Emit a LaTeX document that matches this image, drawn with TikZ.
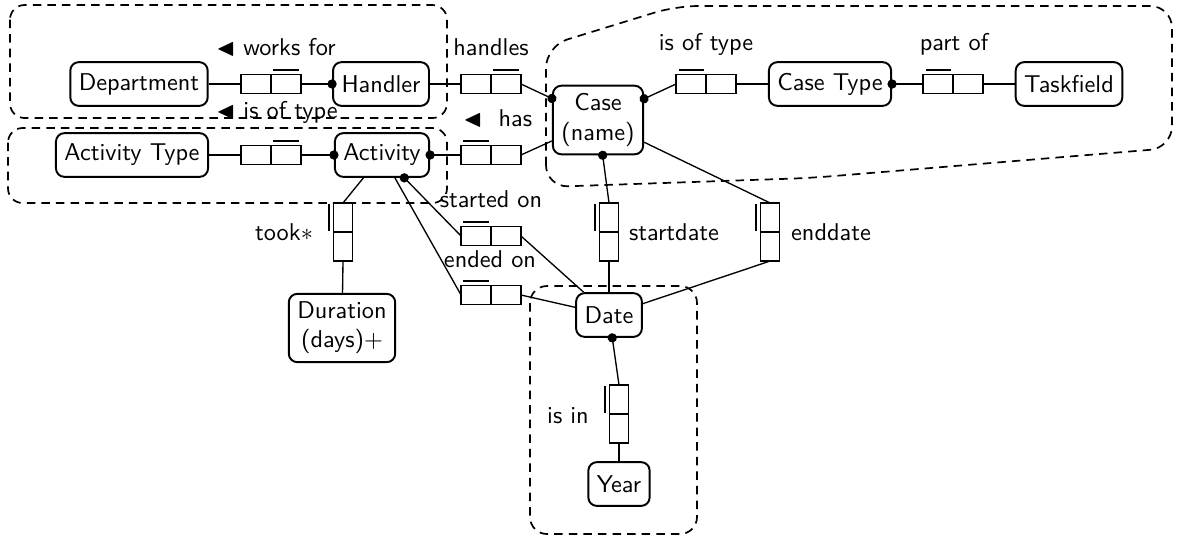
\documentclass[tikz,border=0pt]{standalone}
\usepackage{amssymb}
\usetikzlibrary{arrows.meta}
\begin{document}
\begin{tikzpicture}[x=0.4115pt,y=-0.4115pt]
        \tikzstyle{entity}=[rectangle,rounded corners=3.5pt,draw,line width=0.8pt,font=\sffamily,align=center,minimum height=18pt,inner xsep=3.5pt]
        \tikzstyle{role}=[rectangle,draw,line width=0.6pt,minimum width=12.3pt,minimum height=7.8pt,inner sep=0pt,outer sep=0pt]
        \tikzstyle{vrole}=[role,minimum width=7.8pt,minimum height=12pt]
        \tikzstyle{reading}=[font=\sffamily,inner sep=0pt]
        \tikzstyle{link}=[draw,line width=0.55pt]
        \tikzstyle{mandatory}=[-{Circle[length=3.8pt]},shorten >=-1.9pt]
        \tikzstyle{uniq}=[line width=0.8pt]
        \tikzstyle{group}=[dash pattern=on 3.5pt off 2.5pt,line width=0.7pt,rounded corners=6pt]
        \useasboundingbox (0,0) rectangle (1180,538);
       \begin{scope}
         \node [entity] (department) at (139,84) {Department};
         \node [entity] (handler) at (381,84) {Handler};
         \node [entity] (acttype) at (132,155) {Activity Type};
         \node [entity] (activity) at (382,155) {Activity};
         \node [entity] (case) at (598,120) {Case\\(name)};
         \node [entity] (casetype) at (830,84) {Case Type};
         \node [entity] (taskfield) at (1069,84) {Taskfield};
         \node [entity] (duration) at (342,328) {Duration\\(days)$+$};
         \node [entity] (date) at (609,315) {Date};
         \node [entity] (year) at (619,484) {Year};

         \node [role] (worksfor1) at (256,84) {};
         \node [role] (worksfor2) at (286,84) {};
         \node [role] (isoftype1) at (256,155) {};
         \node [role] (isoftype2) at (286,155) {};
         \node [role] (handles1) at (476,84) {};
         \node [role] (handles2) at (506,84) {};
         \node [role] (has1) at (476,155) {};
         \node [role] (has2) at (506,155) {};
         \node [role] (casetypeof1) at (691,84) {};
         \node [role] (casetypeof2) at (721,84) {};
         \node [role] (partof1) at (938,84) {};
         \node [role] (partof2) at (968,84) {};
         \node [role] (startedon1) at (476,236) {};
         \node [role] (startedon2) at (506,236) {};
         \node [role] (endedon1) at (476,295) {};
         \node [role] (endedon2) at (506,295) {};
         \node [vrole] (took1) at (343,217.5) {};
         \node [vrole] (took2) at (343,246.5) {};
         \node [vrole] (startdate1) at (609,217.5) {};
         \node [vrole] (startdate2) at (609,246.5) {};
         \node [vrole] (enddate1) at (770,217.5) {};
         \node [vrole] (enddate2) at (770,246.5) {};
         \node [vrole] (isin1) at (619,399.5) {};
         \node [vrole] (isin2) at (619,428.5) {};

         \foreach \r in {worksfor2,isoftype2,handles2,has1,casetypeof1,partof1,startedon1,endedon1}
           \draw[uniq] ([xshift=1pt,yshift=2pt]\r.north west) -- ([xshift=-1pt,yshift=2pt]\r.north east);
         \foreach \r in {took1,startdate1,enddate1,isin1}
           \draw[uniq] ([xshift=-2pt,yshift=-0.5pt]\r.north west) -- ([xshift=-2pt,yshift=0.5pt]\r.south west);

         \node [reading,anchor=base west] (worksforlbl) at (216,55) {$\blacktriangleleft$ works for};
         \node [reading,anchor=base west] (isoftypelbl) at (216,118) {$\blacktriangleleft$ is of type};
         \node [reading,anchor=base] (handleslbl) at (491,55) {handles};
         \node [reading,anchor=base west] (haslbl) at (463,126) {$\blacktriangleleft$\ \ has};
         \node [reading,anchor=base] (casetypeoflbl) at (706,50) {is of type};
         \node [reading,anchor=base] (partoflbl) at (954,50) {part of};
         \node [reading,anchor=base] (startedonlbl) at (491,207) {started on};
         \node [reading,anchor=base] (endedonlbl) at (490,267) {ended on};
         \node [reading,anchor=base] (tooklbl) at (284,240) {took$*$};
         \node [reading,anchor=base] (startdatelbl) at (674,240) {startdate};
         \node [reading,anchor=base] (enddatelbl) at (831,240) {enddate};
         \node [reading,anchor=base] (isinlbl) at (568,423) {is in};

         \path[link] (department) edge (worksfor1.west);
         \path[link] (worksfor2.east) edge[mandatory] (handler);
         \path[link] (acttype) edge (isoftype1.west);
         \path[link] (isoftype2.east) edge[mandatory] (activity);
         \path[link] (handler) edge (handles1.west);
         \path[link] (handles2.east) edge[mandatory] (case);
         \path[link] (has1.west) edge[mandatory] (activity);
         \path[link] (has2.east) edge (case);
         \path[link] (casetypeof1.west) edge[mandatory] (case);
         \path[link] (casetypeof2.east) edge (casetype);
         \path[link] (partof1.west) edge[mandatory] (casetype);
         \path[link] (partof2.east) edge (taskfield);
         \path[link] (took1.north) edge (activity);
         \path[link] (took2.south) edge (duration);
         \path[link] (startedon1.west) edge[mandatory] (activity);
         \path[link] (startedon2.east) edge (date);
         \path[link] (endedon1.west) edge (activity);
         \path[link] (endedon2.east) edge (date);
         \path[link] (startdate1.north) edge[mandatory] (case);
         \path[link] (startdate2.south) edge (date);
         \path[link] (enddate1.north) edge (case);
         \path[link] (enddate2.south) edge (date);
         \path[link] (isin1.north) edge[mandatory] (date);
         \path[link] (isin2.south) edge (year);
        \end{scope}
        \draw[group] (10,5) rectangle (447,118);
        \draw[group] (8,128) rectangle (447,203);
        \draw[group,rounded corners=9pt] (546,187) -- (546,46) -- (676,6) -- (1172,6) -- (1172,148) -- (810,178) -- cycle;
        \draw[group,rounded corners=7pt] (530,286) rectangle (697,534);
      \end{tikzpicture}
\end{document}
